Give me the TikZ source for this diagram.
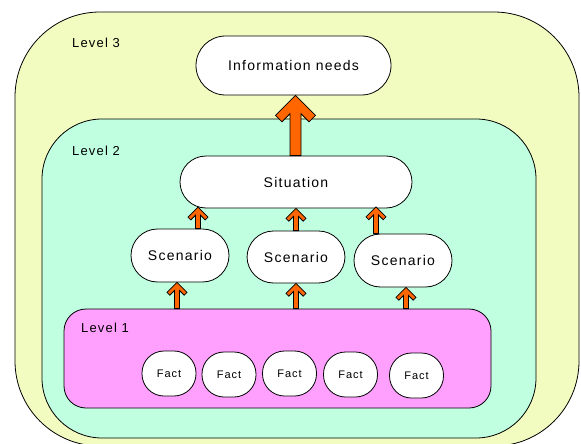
\documentclass[tikz,border=0pt]{standalone}
\usepackage{fontspec}
\setmainfont{Liberation Sans}[LetterSpace=9]
\usetikzlibrary{calc}
\definecolor{lvlthree}{RGB}{243,252,192}
\definecolor{lvltwo}{RGB}{192,255,224}
\definecolor{lvlone}{RGB}{255,160,255}
\definecolor{arrowor}{RGB}{255,102,0}
\tikzset{
  container/.style={draw=black, line width=0.8pt, inner sep=0pt},
  pill/.style={draw=black, line width=0.8pt, fill=white, inner sep=0pt, font=\fontsize{14}{16}\selectfont},
  factnode/.style={pill, minimum width=54pt, minimum height=45pt, rounded corners=22pt, font=\fontsize{11}{13}\selectfont},
  scennode/.style={pill, minimum width=98pt, minimum height=53pt, rounded corners=26.5pt},
  lvllabel/.style={anchor=west, inner sep=0pt, font=\fontsize{13}{15}\selectfont},
  fatarrow/.style={draw=black, line width=0.8pt, fill=arrowor, line join=miter}
}
% #1 base, #2 tip, #3 arm length, #4 cap, #5 shaft half-width
\newcommand{\upfatarrow}[5]{%
  \draw[fatarrow] let \p1=(#1), \p2=(#2) in
    (\x2,\y2) -- (\x2-#3pt,\y2-#3pt) -- (\x2-#3pt+#4pt,\y2-#3pt-#4pt)
    -- (\x2-#5pt,\y2-2*#4pt-#5pt) -- (\x2-#5pt,\y1) -- (\x2+#5pt,\y1)
    -- (\x2+#5pt,\y2-2*#4pt-#5pt) -- (\x2+#3pt-#4pt,\y2-#3pt-#4pt)
    -- (\x2+#3pt,\y2-#3pt) -- cycle;}
\begin{document}
\begin{tikzpicture}[x=1pt, y=-1pt]
\useasboundingbox (0,0) rectangle (581,444);
\clip (0,0) rectangle (581,444);
% containers
\node[container, fill=lvlthree, minimum width=564pt, minimum height=434pt, rounded corners=85pt] (l3) at (297,229) {};
\node[container, fill=lvltwo, minimum width=494pt, minimum height=319pt, rounded corners=60pt] (l2) at (289,278.5) {};
\node[container, fill=lvlone, minimum width=427pt, minimum height=99pt, rounded corners=22pt] (l1) at (277.5,358.5) {};
\node[lvllabel] (l3lab) at (72,43) {Level 3};
\node[lvllabel] (l2lab) at (72,151) {Level 2};
\node[lvllabel] (l1lab) at (81,328) {Level 1};
% nodes
\node[pill, minimum width=195pt, minimum height=59pt, rounded corners=29.5pt] (info) at (293.5,65.5) {Information needs};
\node[pill, minimum width=232pt, minimum height=52pt, rounded corners=26pt] (sit) at (296,182) {Situation};
\node[scennode] (sc1) at (180,255.5) {Scenario};
\node[scennode, minimum height=52pt] (sc2) at (296,257) {Scenario};
\node[scennode] (sc3) at (403,260.5) {Scenario};
\node[factnode] (f1) at (169,373.5) {Fact};
\node[factnode] (f2) at (229,374.5) {Fact};
\node[factnode] (f3) at (289.5,373.5) {Fact};
\node[factnode] (f4) at (350.5,374.5) {Fact};
\node[factnode] (f5) at (416.5,375.5) {Fact};
% arrow end points
\coordinate (bigb) at ([xshift=-0.5pt]sit.north);
\coordinate (bigt) at (bigb |- info.south);
\coordinate (u1b) at ([xshift=18pt]sc1.north);
\coordinate (u1t) at ([yshift=1.3pt]u1b |- sit.south);
\coordinate (u2b) at (sc2.north);
\coordinate (u2t) at (u2b |- sit.south);
\coordinate (u3b) at ([xshift=-27pt]sc3.north);
\coordinate (u3t) at ([yshift=1.5pt]u3b |- sit.south);
\coordinate (d1b) at (l1.north -| 177,0);
\coordinate (d1t) at (d1b |- sc1.south);
\coordinate (d2b) at (l1.north -| sc2.south);
\coordinate (d2t) at (sc2.south);
\coordinate (d3b) at (l1.north -| 406,0);
\coordinate (d3t) at (d3b |- sc3.south);
% arrows
\upfatarrow{bigb}{bigt}{20}{6.4}{5.5}
\upfatarrow{u1b}{u1t}{10}{2.8}{2.5}
\upfatarrow{u2b}{u2t}{10}{2.8}{2.5}
\upfatarrow{u3b}{u3t}{10}{2.8}{2.5}
\upfatarrow{d1b}{d1t}{10}{2.8}{2.5}
\upfatarrow{d2b}{d2t}{10}{2.8}{2.5}
\upfatarrow{d3b}{d3t}{10}{2.8}{2.5}
\end{tikzpicture}
\end{document}
